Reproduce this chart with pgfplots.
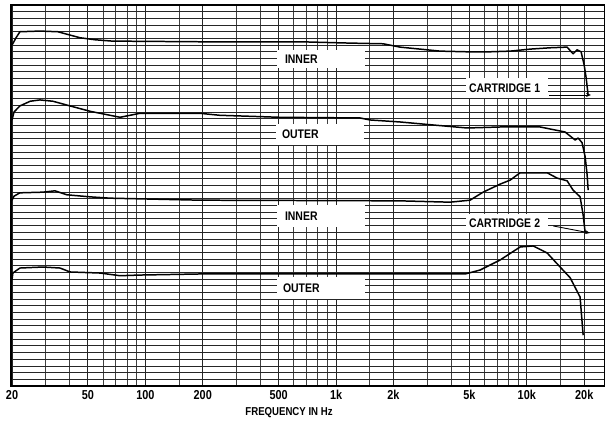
\documentclass[border=0pt]{standalone}
\usepackage{pgfplots}
\pgfplotsset{compat=1.18}
\usepackage{fontspec}
\newfontfamily\cond{Liberation Sans}[FakeStretch=0.84]
\usetikzlibrary{arrows.meta}

% label box: rel x, rel y, box width, box height, text
\newcommand{\lbl}[5]{\node[fill=white, inner ysep=0pt, inner xsep=3bp,
  minimum width=#3, minimum height=#4, text width=#3-6bp, align=left]
  at (rel axis cs:#1,#2) {\cond\bfseries\fontsize{12.5}{13}\selectfont #5};}

\begin{document}
\begin{tikzpicture}
\useasboundingbox (-11bp,-38bp) rectangle (594bp,386bp);
\begin{axis}[
  at={(0,0)}, anchor=south west,
  scale only axis,
  width=594bp, height=381bp,
  xmode=log, log basis x=10,
  xmin=19.76, xmax=25700,
  ymin=0, ymax=57,
  xtick={20,50,100,200,500,1000,2000,5000,10000,20000},
  xticklabels={20,50,100,200,500,1k,2k,5k,10k,20k},
  minor xtick={30,40,60,70,80,90,150,300,400,600,700,800,900,1500,3000,4000,6000,7000,8000,9000,15000},
  ytick={1,2,...,56},
  yticklabels={},
  grid=both,
  major grid style={black!85, line width=0.85pt},
  minor grid style={black!75, line width=0.7pt},
  major tick length=0pt, minor tick length=0pt,
  axis line style={black, line width=1.1pt},
  xticklabel style={font=\cond\bfseries\fontsize{13}{14}\selectfont, yshift=-1bp},
  xlabel={FREQUENCY IN Hz},
  xlabel style={at={(axis description cs:0.468,-0.071)}, anchor=center,
    font=\cond\bfseries\fontsize{11.5}{13}\selectfont},
  clip=false,
]
% cartridge 1, inner groove
\addplot[black, line width=1.5pt, line join=round] coordinates {
(20,51.0)(21,52.1)(22,53.0)(28,53.1)(34.8,53.0)(40.3,52.5)(45.5,52.1)(54.5,51.8)
(66.9,51.6)(193,51.5)(647,51.5)(1185,51.3)(1764,51.2)(2166,50.7)(2757,50.4)
(3510,50.1)(4864,50.0)(6424,50.0)(8177,50.1)(10400,50.4)(13250,50.6)(16260,50.7)
(17490,49.7)(18360,50.3)(19260,50.0)(19990,48.0)(20470,46.1)(20970,43.5)
};
% cartridge 1, outer groove
\addplot[black, line width=1.5pt, line join=round] coordinates {
(20,39.8)(20.5,41.0)(22,41.9)(24.9,42.6)(28,42.8)(32.8,42.6)(40.3,41.9)(51.3,41.1)
(65.3,40.5)(73.7,40.2)(83.2,40.5)(93.8,40.8)(193,40.8)(246,40.5)(509,40.2)
(1336,40.1)(1508,39.8)(2166,39.5)(3228,39.05)(4864,38.6)(7245,38.75)(11750,38.75)
(15880,38.0)(17920,36.8)(18590,37.1)(19480,36.4)(20220,34.3)(20710,31.6)(20970,29.3)
};
% cartridge 2, inner groove
\addplot[black, line width=1.5pt, line join=round] coordinates {
(20,27.8)(20.5,28.4)(22,28.9)(29.1,29.0)(33.6,29.2)(38.9,28.6)(51.3,28.3)(65.3,28.1)
(193,27.8)(2166,27.7)(3962,27.5)(5041,27.8)(5900,29.0)(7245,30.2)(8177,30.8)
(9225,31.9)(12780,31.9)(14420,31.1)(16260,30.7)(17490,29.3)(19030,28.3)(19740,25.6)
(20220,23.0)
};
% cartridge 2, outer groove
\addplot[black, line width=1.5pt, line join=round] coordinates {
(20,15.9)(20.2,16.9)(22,17.65)(29.1,17.8)(35.7,17.65)(40.3,17.06)(57.9,16.9)
(73.7,16.5)(93.8,16.6)(193,16.76)(4748,16.76)(5690,17.35)(7245,18.85)(9225,20.8)
(10790,20.95)(12780,19.9)(14950,17.8)(16870,16.2)(19030,13.3)(19740,7.6)
};

\lbl{0.5219}{0.8583}{88bp}{18bp}{\hspace{5bp}INNER}
\lbl{0.5202}{0.6614}{88bp}{21bp}{\hspace{3bp}OUTER}
\lbl{0.5219}{0.4462}{88bp}{22bp}{\hspace{5bp}INNER}
\lbl{0.5219}{0.2572}{88bp}{22bp}{\hspace{3bp}OUTER}
\lbl{0.835}{0.7822}{82bp}{20bp}{CARTRIDGE 1}
\lbl{0.835}{0.4278}{82bp}{18bp}{CARTRIDGE 2}

\draw[black, line width=0.9pt, -{Stealth[length=5bp,width=4bp]}]
  (rel axis cs:0.9060,0.7638) -- (rel axis cs:0.9764,0.7638);
\draw[black, line width=0.9pt, -{Stealth[length=5bp,width=4bp]}]
  (rel axis cs:0.9130,0.4200) -- (rel axis cs:0.9747,0.4016);
\end{axis}
\end{tikzpicture}
\end{document}
